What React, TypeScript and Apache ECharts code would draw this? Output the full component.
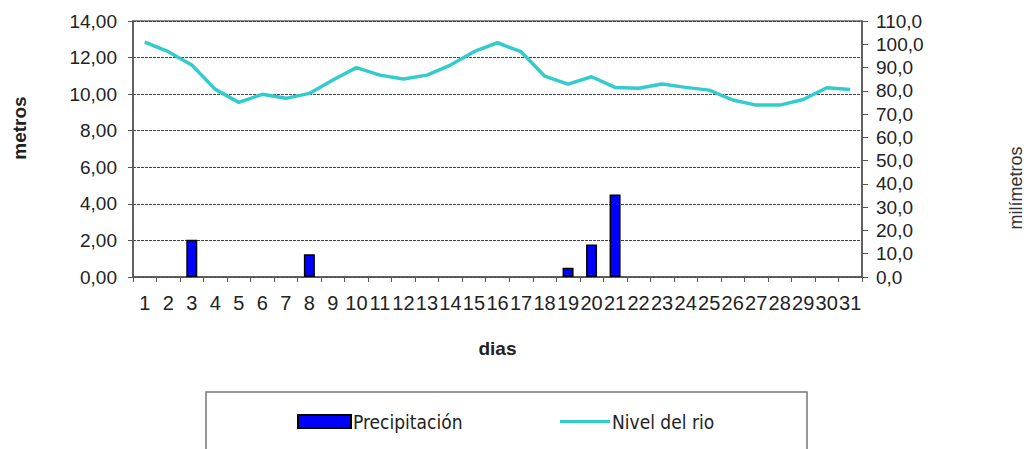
import React, { useEffect, useRef } from "react";
import * as echarts from "echarts";

const dias: string[] = Array.from({ length: 31 }, (_, i) => String(i + 1));

const precipitacion: number[] = [
  0, 0, 16, 0, 0, 0, 0, 9.8, 0, 0,
  0, 0, 0, 0, 0, 0, 0, 0, 4, 14,
  35.5, 0, 0, 0, 0, 0, 0, 0, 0, 0, 0,
];

const nivelRio: number[] = [
  12.85, 12.32, 11.59, 10.26, 9.55, 9.99, 9.77, 10.04, 10.77, 11.45,
  11.04, 10.83, 11.04, 11.59, 12.32, 12.81, 12.32, 10.99, 10.55, 10.95,
  10.37, 10.32, 10.55, 10.37, 10.22, 9.68, 9.4, 9.4, 9.71, 10.35, 10.26,
];

const FONT = "'Liberation Sans', Arial, sans-serif";
const LEGEND_FONT = "'DejaVu Sans Condensed', 'DejaVu Sans', sans-serif";
const TXT = "#222";

export default function App() {
  const ref = useRef<HTMLDivElement>(null);

  useEffect(() => {
    if (!ref.current) return;
    const chart = echarts.init(ref.current, undefined, { renderer: "svg" });
    chart.setOption({
      animation: false,
      backgroundColor: "#fff",
      textStyle: { fontFamily: FONT },
      grid: {
        left: 133,
        right: 165,
        top: 21,
        bottom: 172,
        show: true,
        borderColor: "#666",
        borderWidth: 1.5,
      },
      legend: [
        {
          left: 297,
          top: 412,
          padding: 0,
          itemWidth: 53,
          itemHeight: 13,
          data: [{ name: "Precipitación", icon: "rect" }],
          textStyle: { fontFamily: LEGEND_FONT, fontSize: 19, color: TXT, padding: [0, 0, 0, -3] },
        },
        {
          left: 560,
          top: 412,
          padding: 0,
          itemWidth: 50,
          itemHeight: 13,
          data: [
            {
              name: "Nivel del rio",
              icon: "path://M0,5 L50,5 L50,8 L0,8 Z",
              itemStyle: { color: "#33CCCC", borderWidth: 0 },
            },
          ],
          textStyle: { fontFamily: LEGEND_FONT, fontSize: 19, color: TXT, padding: [0, 0, 0, -3] },
        },
      ],
      xAxis: {
        type: "category",
        data: dias,
        boundaryGap: true,
        name: "dias",
        nameLocation: "middle",
        nameGap: 62,
        nameTextStyle: { fontSize: 19, fontWeight: "bold", color: TXT, fontFamily: FONT },
        axisLine: { lineStyle: { color: "#555", width: 1.5 } },
        axisTick: { show: true, length: 5, interval: 0, lineStyle: { color: "#555" } },
        axisLabel: { interval: 0, fontSize: 20, color: TXT, margin: 16, fontFamily: FONT },
        splitLine: { show: false },
      },
      yAxis: [
        {
          type: "value",
          min: 0,
          max: 14,
          interval: 2,
          position: "left",
          axisLine: { show: true, lineStyle: { color: "#555", width: 1.5 } },
          axisTick: { show: true, length: 5, lineStyle: { color: "#555" } },
          axisLabel: {
            fontSize: 19,
            color: TXT,
            margin: 16,
            fontFamily: FONT,
            formatter: (v: number) => v.toFixed(2).replace(".", ","),
          },
          splitLine: { show: true, lineStyle: { color: "#444", type: [3, 1], width: 1 } },
        },
        {
          type: "value",
          min: 0,
          max: 110,
          interval: 10,
          position: "right",
          axisLine: { show: true, lineStyle: { color: "#555", width: 1.5 } },
          axisTick: { show: true, length: 6, lineStyle: { color: "#555" } },
          axisLabel: {
            fontSize: 19,
            color: TXT,
            margin: 14,
            fontFamily: FONT,
            formatter: (v: number) => v.toFixed(1).replace(".", ","),
          },
          splitLine: { show: false },
        },
      ],
      graphic: [
        {
          type: "text",
          x: 19,
          y: 128,
          rotation: Math.PI / 2,
          style: {
            text: "metros",
            fontSize: 19,
            fontWeight: "bold",
            fontFamily: FONT,
            fill: TXT,
            align: "center",
            verticalAlign: "middle",
          },
        },
        {
          type: "text",
          x: 1016,
          y: 188,
          rotation: Math.PI / 2,
          style: {
            text: "milímetros",
            fontSize: 18,
            fontFamily: FONT,
            fill: "#333",
            align: "center",
            verticalAlign: "middle",
          },
        },
        {
          type: "rect",
          shape: { x: 206, y: 392, width: 601, height: 80 },
          style: { fill: "none", stroke: "#777", lineWidth: 1.5 },
          z: -1,
        },
      ],
      series: [
        {
          name: "Precipitación",
          type: "bar",
          yAxisIndex: 1,
          data: precipitacion.map((v) => (v === 0 ? "-" : v)),
          barWidth: 11,
          itemStyle: { color: "#0000FF", borderColor: "#000", borderWidth: 1.5 },
        },
        {
          name: "Nivel del rio",
          type: "line",
          yAxisIndex: 0,
          data: nivelRio,
          symbol: "none",
          showSymbol: false,
          lineStyle: { color: "#33CCCC", width: 3.5 },
          itemStyle: { color: "#33CCCC" },
          z: 3,
        },
      ],
    });
    return () => chart.dispose();
  }, []);

  return (
    <div
      ref={ref}
      style={{ position: "fixed", left: 0, top: 0, width: 1027, height: 449 }}
    />
  );
}
